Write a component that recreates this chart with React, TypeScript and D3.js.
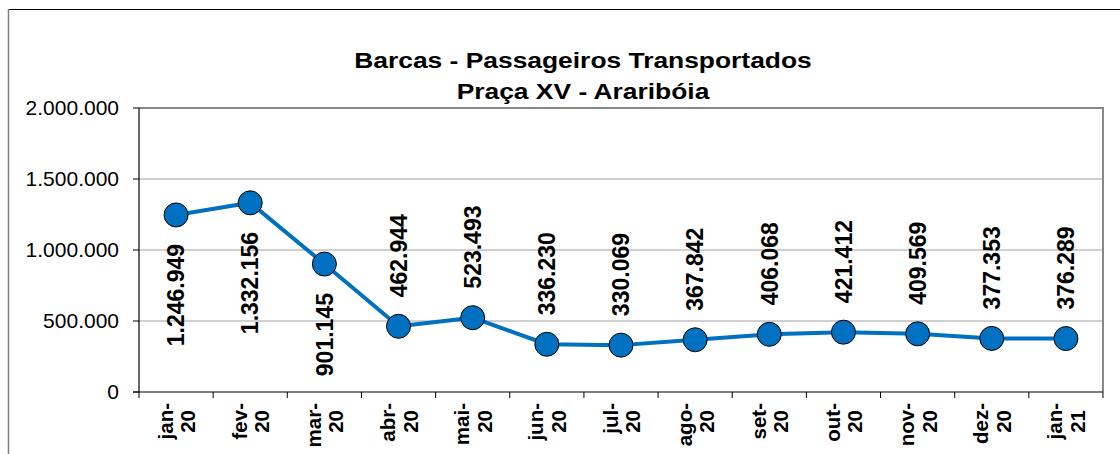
import React from "react";
import * as d3 from "d3";

const titleLines = ["Barcas - Passageiros Transportados", "Praça XV - Araribóia"];
const categories = ["jan-20", "fev-20", "mar-20", "abr-20", "mai-20", "jun-20", "jul-20", "ago-20", "set-20", "out-20", "nov-20", "dez-20", "jan-21"];
const passengers = [1246949, 1332156, 901145, 462944, 523493, 336230, 330069, 367842, 406068, 421412, 409569, 377353, 376289];
const yTicks = [0, 500000, 1000000, 1500000, 2000000];

const W = 1120;
const H = 454;
const plot = { left: 139, right: 1103, top: 108, bottom: 392 };
const FONT = "'Liberation Sans', Arial, Helvetica, sans-serif";
const BLUE = "#0070C0";

const ptBR = d3.formatLocale({ decimal: ",", thousands: ".", grouping: [3], currency: ["R$", ""] });
const fmt = ptBR.format(",d");

export default function App() {
  const x = d3.scaleBand<string>().domain(categories).range([plot.left, plot.right]).padding(0);
  const y = d3.scaleLinear().domain([0, 2000000]).range([plot.bottom, plot.top]);
  const cx = (c: string) => (x(c) as number) + x.bandwidth() / 2;

  const line = d3
    .line<number>()
    .x((_, i) => cx(categories[i]))
    .y((v) => y(v));

  const boundaries = categories.map((c) => x(c) as number).concat([plot.right]);

  return (
    <svg
      width={W}
      height={H}
      style={{ position: "absolute", left: 0, top: 0, display: "block", background: "#fff" }}
      fontFamily={FONT}
    >
      <rect x={0} y={0} width={W} height={H} fill="#fff" />
      {/* outer chart frame */}
      <line x1={8} y1={9.5} x2={W} y2={9.5} stroke="#000" strokeWidth={1.2} />
      <line x1={8.5} y1={9} x2={8.5} y2={H} stroke="#808080" strokeWidth={1.5} />

      {/* title */}
      {titleLines.map((t, i) => (
        <text
          key={t}
          transform={`translate(583,${67.5 + i * 31.5}) scale(1.2,1)`}
          textAnchor="middle"
          fontSize={22}
          fontWeight="bold"
          fill="#000"
        >
          {t}
        </text>
      ))}

      {/* gridlines */}
      {yTicks
        .filter((v) => v > 0 && v < 2000000)
        .map((v) => (
          <line key={v} x1={plot.left} x2={plot.right} y1={y(v)} y2={y(v)} stroke="#c0c0c0" strokeWidth={1.5} />
        ))}

      {/* plot frame: gray top/right */}
      <line x1={plot.left} x2={plot.right + 1} y1={plot.top} y2={plot.top} stroke="#888" strokeWidth={2} />
      <line x1={plot.right} x2={plot.right} y1={plot.top} y2={plot.bottom} stroke="#888" strokeWidth={2} />

      {/* y axis */}
      <line x1={plot.left} x2={plot.left} y1={plot.top} y2={plot.bottom} stroke="#000" strokeWidth={1.2} />
      {yTicks.map((v) => (
        <g key={v}>
          <line x1={plot.left - 6} x2={plot.left} y1={y(v)} y2={y(v)} stroke="#000" strokeWidth={1} />
          <text
            transform={`translate(119,${y(v) + 7.2}) scale(1.05,1)`}
            textAnchor="end"
            fontSize={20}
            fill="#000"
          >
            {fmt(v)}
          </text>
        </g>
      ))}

      {/* x axis */}
      <line x1={plot.left - 6} x2={plot.right} y1={plot.bottom} y2={plot.bottom} stroke="#000" strokeWidth={1.2} />
      {boundaries.map((b, i) => (
        <line key={i} x1={b} x2={b} y1={plot.bottom} y2={plot.bottom + 6} stroke="#000" strokeWidth={1} />
      ))}
      {categories.map((c) => {
        const [m, yr] = c.split("-");
        const c0 = cx(c);
        return (
          <g key={c} fontSize={20.5} fontWeight="bold" fill="#000">
            <text transform={`translate(${c0 - 3.5},403) rotate(-90)`} textAnchor="end">
              {m + "-"}
            </text>
            <text transform={`translate(${c0 + 19},410) rotate(-90)`} textAnchor="end">
              {yr}
            </text>
          </g>
        );
      })}

      {/* series line */}
      <path d={line(passengers) || ""} fill="none" stroke={BLUE} strokeWidth={4} strokeLinejoin="round" />
      {passengers.map((v, i) => (
        <circle key={i} cx={cx(categories[i])} cy={y(v)} r={12} fill={BLUE} stroke="#000" strokeWidth={1} />
      ))}

      {/* data labels */}
      {passengers.map((v, i) => {
        const px = cx(categories[i]);
        const py = y(v);
        const below = v > 800000;
        return (
          <text
            key={i}
            transform={`translate(${px + 8.2},${below ? py + 29 : py - 29}) rotate(-90)`}
            textAnchor={below ? "end" : "start"}
            fontSize={23}
            fontWeight="bold"
            fill="#000"
          >
            {fmt(v)}
          </text>
        );
      })}
    </svg>
  );
}
